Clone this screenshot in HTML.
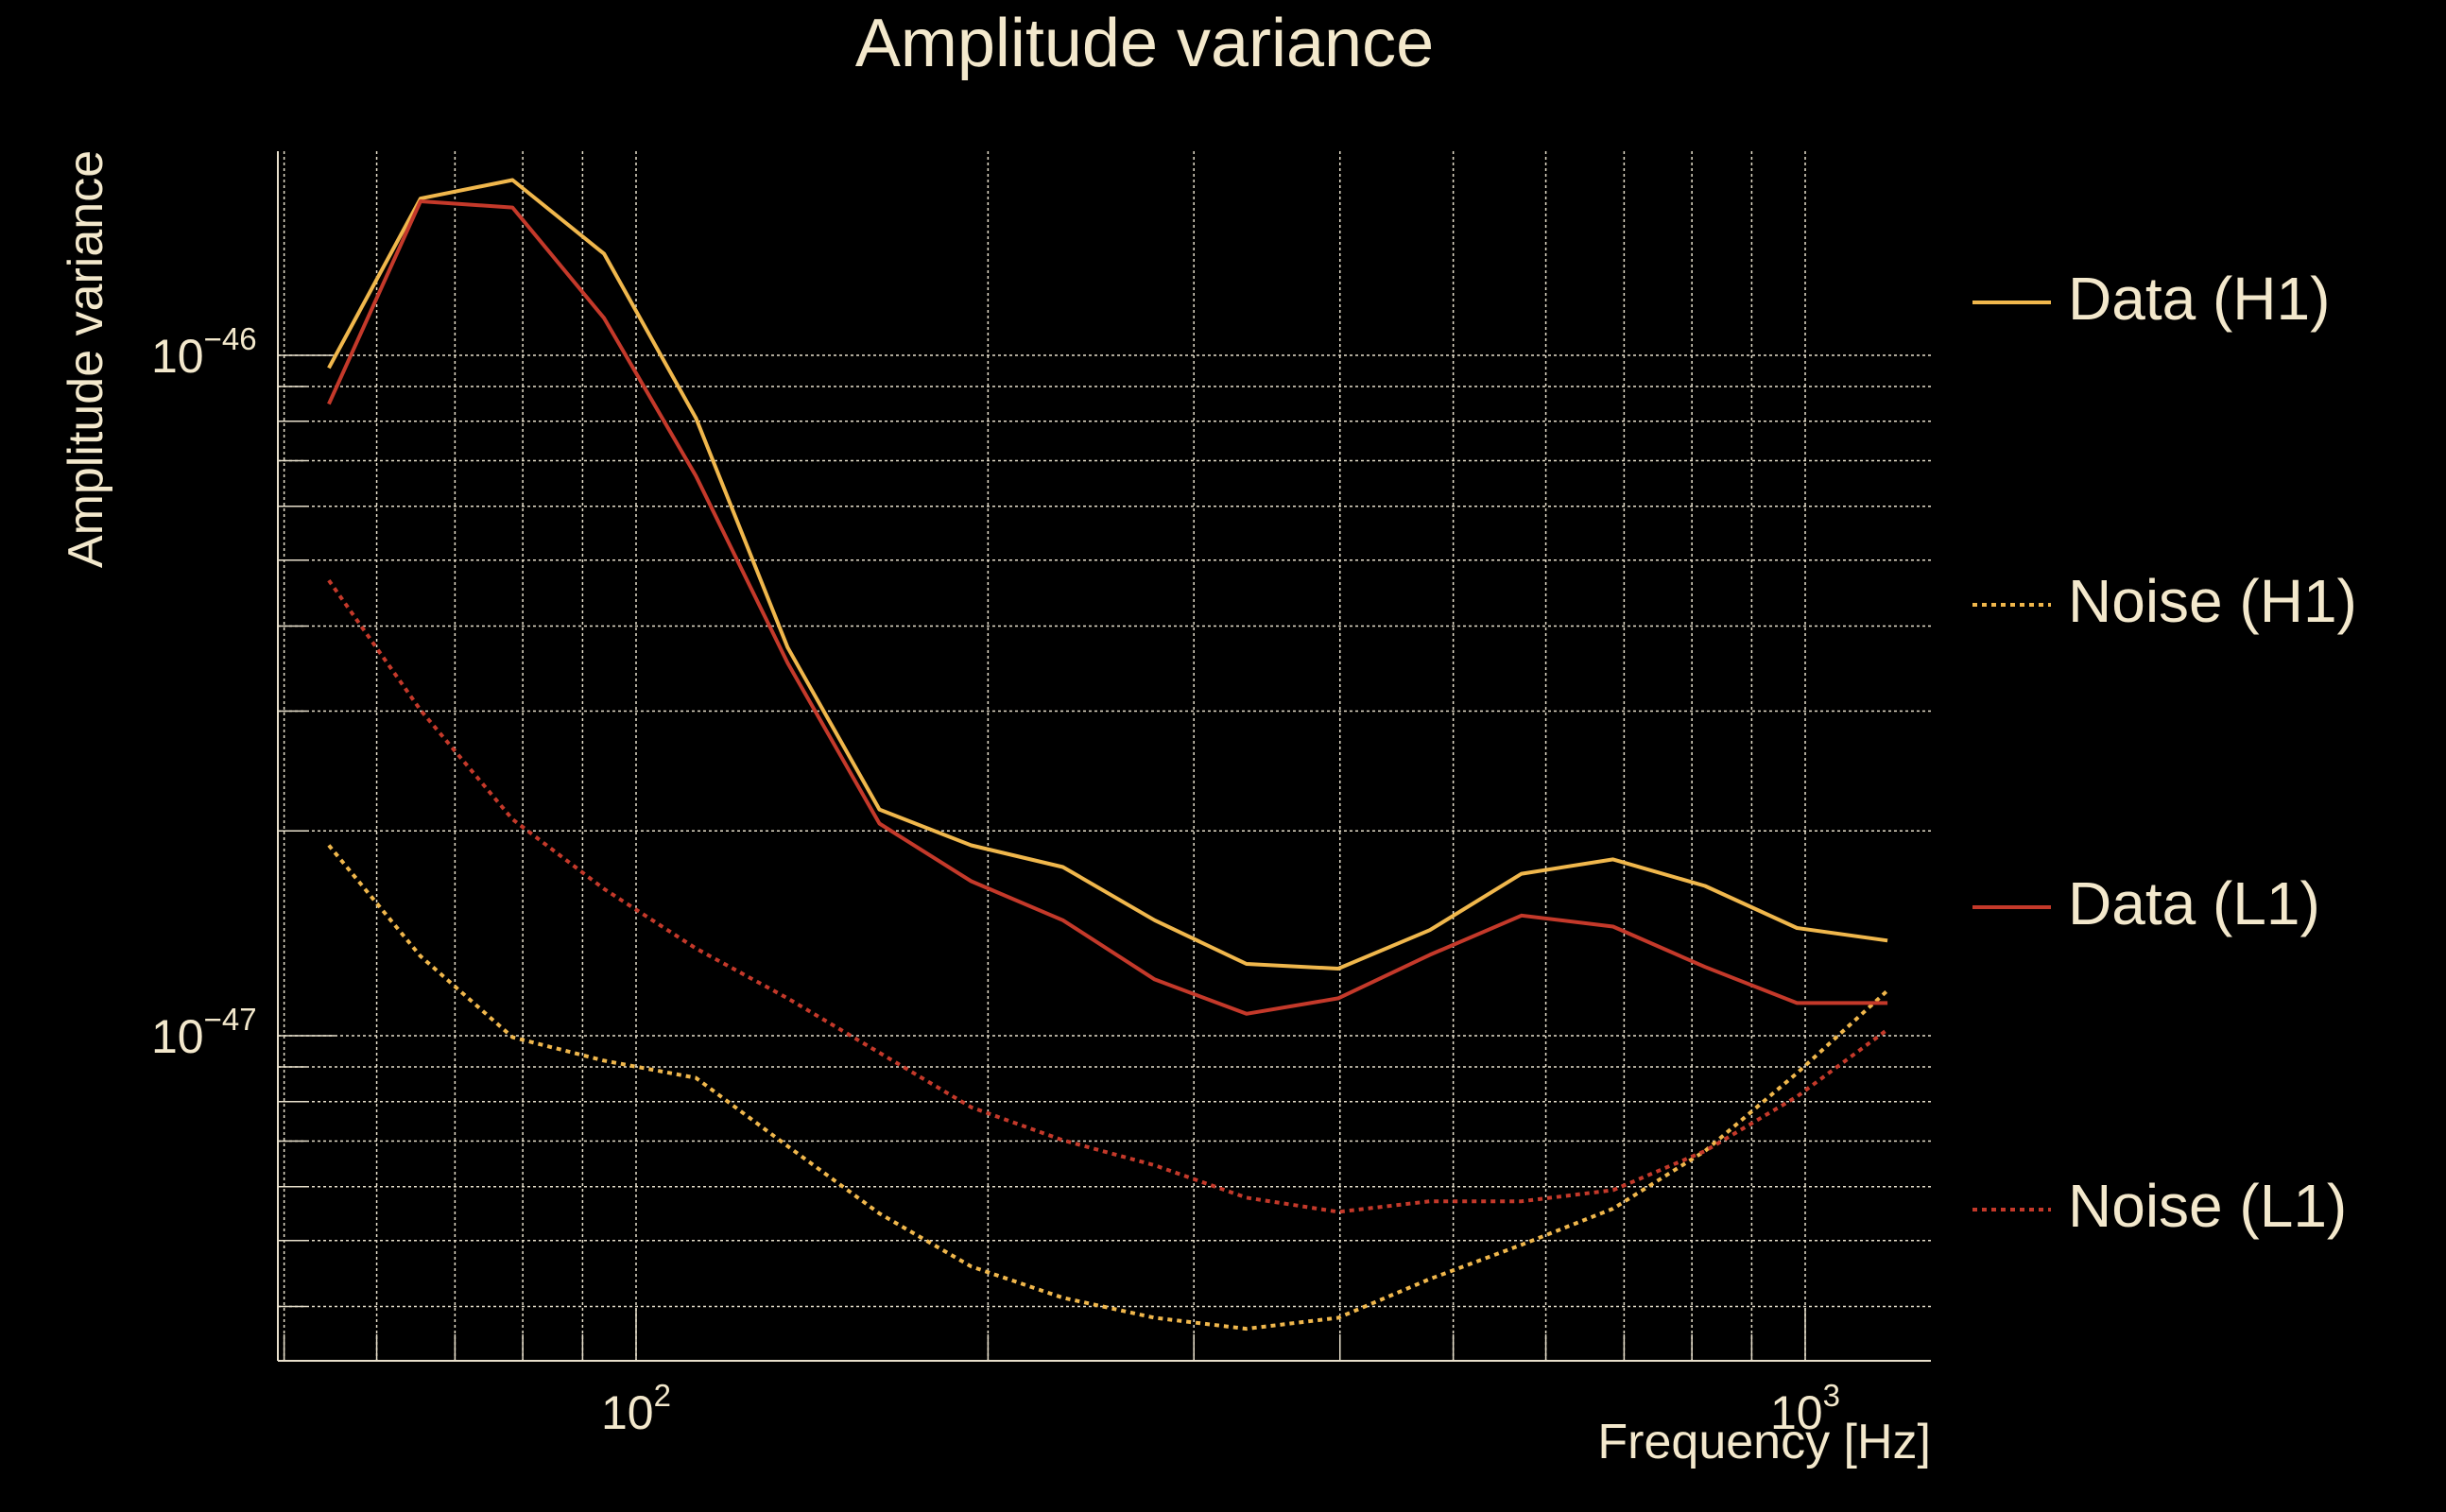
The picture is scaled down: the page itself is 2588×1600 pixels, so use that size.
<!DOCTYPE html>
<html><head><meta charset="utf-8">
<style>
html,body{margin:0;padding:0;background:#000;}
svg{display:block;font-family:"Liberation Sans",sans-serif;}
</style></head>
<body>
<svg id="chart" width="2588" height="1600" viewBox="0 0 2588 1600" xmlns="http://www.w3.org/2000/svg">
<rect width="2588" height="1600" fill="#000"/>
<text x="1211" y="70" font-size="72" fill="#f3e8cc" text-anchor="middle">Amplitude variance</text>
<text transform="translate(108,380) rotate(-90)" font-size="52" fill="#f3e8cc" text-anchor="middle">Amplitude variance</text>
<text x="2043" y="1543" font-size="52" fill="#f3e8cc" text-anchor="end">Frequency [Hz]</text>
<g id="grid"></g>
<g id="ticks"></g>
<g id="series"></g>
<g id="legend"></g>
</svg>
<script>
const freqs = [54.6,65.4,78.4,93.9,112.5,134.8,161.5,193.5,231.8,277.7,332.7,398.6,477.5,572,685,821,984,1176];
const dataH1 = [9.58e-47,1.70e-46,1.81e-46,1.41e-46,8.09e-47,3.72e-47,2.15e-47,1.905e-47,1.77e-47,1.478e-47,1.275e-47,1.255e-47,1.43e-47,1.73e-47,1.816e-47,1.66e-47,1.44e-47,1.38e-47];
const dataL1 = [8.48e-47,1.684e-46,1.649e-46,1.134e-46,6.65e-47,3.53e-47,2.05e-47,1.687e-47,1.478e-47,1.21e-47,1.077e-47,1.135e-47,1.315e-47,1.502e-47,1.447e-47,1.262e-47,1.117e-47,1.117e-47];
const noiseH1 = [1.905e-47,1.309e-47,9.95e-48,9.19e-48,8.67e-48,6.88e-48,5.48e-48,4.58e-48,4.12e-48,3.85e-48,3.71e-48,3.85e-48,4.39e-48,4.93e-48,5.57e-48,6.77e-48,8.81e-48,1.165e-47];
const noiseL1 = [4.67e-47,3.01e-47,2.08e-47,1.643e-47,1.344e-47,1.135e-47,9.44e-48,7.85e-48,7.02e-48,6.45e-48,5.78e-48,5.51e-48,5.71e-48,5.71e-48,5.93e-48,6.77e-48,8.14e-48,1.021e-47];
const xTickVals = [100,1000];
const xTickExps = ["2","3"];
const yTickVals = [1e-46,1e-47];
const yTickExps = ["\u221246","\u221247"];
const seriesNames = ["Data (H1)","Noise (H1)","Data (L1)","Noise (L1)"];

const NS="http://www.w3.org/2000/svg";
const L=294,R=2043,T=160,B=1440;
const X0=673, XD=1237;
const Y0=376, YD=720;
function xs(f){return X0+(Math.log10(f)-2)*XD;}
function ys(v){return Y0-(Math.log10(v)+46)*YD;}
function mk(tag,attrs,parent){const e=document.createElementNS(NS,tag);for(const k in attrs)e.setAttribute(k,attrs[k]);parent.appendChild(e);return e;}
const grid=document.getElementById('grid'),ticks=document.getElementById('ticks'),series=document.getElementById('series'),legend=document.getElementById('legend');
const gc="#e8e0cc";
for(let d=10;d<=1000;d*=10){for(let k=1;k<10;k++){const f=k*d;const x=xs(f);if(x<L||x>R)continue;
 const ln=mk('line',{x1:x,x2:x,y1:T,y2:B,stroke:gc,'stroke-width':1.5,'stroke-dasharray':'3,3'},grid);
 
 
 const major=(k===1);
 const tk=mk('line',{x1:x,x2:x,y1:B,y2:B-(major?56:28),stroke:gc,'stroke-width':1.5},ticks);
 
 
}}
for(let e=-48;e<=-46;e++){for(let k=1;k<10;k++){const v=k*Math.pow(10,e);const y=ys(v);if(y<T+2||y>B)continue;
 const ln=mk('line',{x1:L,x2:R,y1:y,y2:y,stroke:gc,'stroke-width':1.5,'stroke-dasharray':'3,3'},grid);
 
 
 const major=(k===1);
 const tk=mk('line',{x1:L,x2:L+(major?60:30),y1:y,y2:y,stroke:gc,'stroke-width':1.5},ticks);
 
 
}}
const ax1=mk('line',{x1:L,x2:L,y1:T,y2:B,stroke:gc,'stroke-width':2},ticks);


const ax2=mk('line',{x1:L,x2:R,y1:B,y2:B,stroke:gc,'stroke-width':2},ticks);


xTickVals.forEach((v,i)=>{const t=mk('text',{x:xs(v),y:1512,'font-size':50,fill:'#f3e8cc','text-anchor':'middle'},ticks);
 
 
 t.innerHTML='10<tspan font-size="33" dy="-24">'+xTickExps[i]+'</tspan>';});
yTickVals.forEach((v,i)=>{const t=mk('text',{x:160,y:ys(v)+18,'font-size':50,fill:'#f3e8cc'},ticks);
 
 
 t.innerHTML='10<tspan font-size="33" dy="-24">'+yTickExps[i]+'</tspan>';});
const YEL="#f0b74c",RED="#c4392a";
const defs=[[dataH1,YEL,null],[noiseH1,YEL,'5,5'],[dataL1,RED,null],[noiseL1,RED,'5,5']];
const snames=['data-h1-line','noise-h1-line','data-l1-line','noise-l1-line'];
defs.forEach((d,si)=>{const pts=d[0].map((v,i)=>xs(freqs[i]).toFixed(1)+','+ys(v).toFixed(1)).join(' ');
 const a={points:pts,fill:'none',stroke:d[1],'stroke-width':4,'stroke-linejoin':'round'};if(d[2])a['stroke-dasharray']=d[2];
 const p=mk('polyline',a,series);
 
 
 const ly=320+si*320;
 const la={x1:2087,x2:2170,y1:ly,y2:ly,stroke:d[1],'stroke-width':4};if(d[2])la['stroke-dasharray']=d[2];
 const ll=mk('line',la,legend);
 
 
 const lt=mk('text',{x:2188,y:ly+18,'font-size':64,fill:'#f3e8cc'},legend);
 
 
 lt.textContent=seriesNames[si];
});
</script>
</body></html>
